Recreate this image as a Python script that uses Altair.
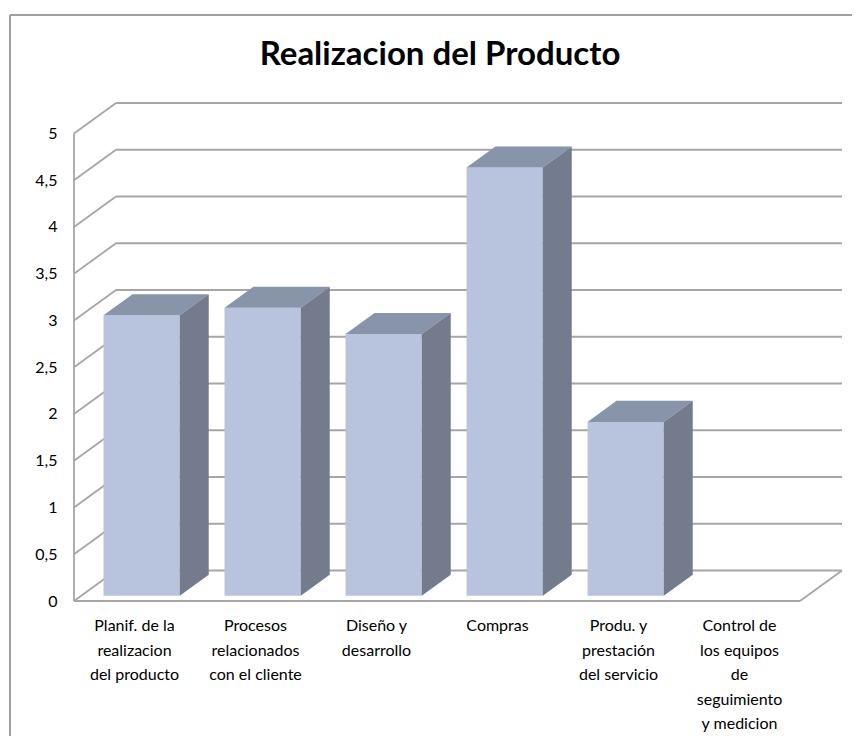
import altair as alt
import pandas as pd

# ---- data ----
title_text = "Realizacion del Producto"
categories = [
    "Planif.  de la\nrealizacion\ndel producto",
    "Procesos\nrelacionados\ncon el cliente",
    "Diseño y\ndesarrollo",
    "Compras",
    "Produ.  y\nprestación\ndel servicio",
    "Control de\nlos equipos\nde\nseguimiento\ny medicion",
]
values = [3.0, 3.08, 2.8, 4.58, 1.86, 0.0]
y_ticks = [0, 0.5, 1, 1.5, 2, 2.5, 3, 3.5, 4, 4.5, 5]

# ---- 3D layout constants (in data units) ----
N = len(categories)
DX = 0.347     # depth offset along x (category units)
DY = 0.326     # depth offset along y (value units)
F0, F1 = 0.17, 0.86   # bar front / back depth fraction
HW = 0.315     # half bar width
XMAX = N + DX
YMAX = 5 + DY

FONT = "Lato"
GRID = "#A6A6A6"
C_FRONT = "#B8C3DD"
C_TOP = "#8894AA"
C_SIDE = "#737B8D"

W, H = 768, 498

xs = alt.Scale(domain=[0, XMAX], nice=False, zero=False)
ys = alt.Scale(domain=[0, YMAX], nice=False, zero=False)

YAX = alt.Axis(
    values=y_ticks,
    domain=False,
    ticks=False,
    grid=False,
    labelPadding=17,
    labelFont=FONT,
    labelFontSize=16,
    labelColor="#000000",
    labelExpr="replace(format(datum.value, '~g'), '.', ',')",
    title=None,
)


def X(field):
    return alt.X(field, scale=xs, axis=None)


def Y(field):
    return alt.Y(field, scale=ys, axis=YAX)


# ---- grid / walls ----
grid = pd.DataFrame({"v": y_ticks})
grid["xb0"] = DX
grid["xb1"] = N + DX
grid["yb"] = grid["v"] + DY
grid["x0"] = 0.0

back_lines = alt.Chart(grid).mark_rule(color=GRID, strokeWidth=1.8).encode(
    x=X("xb0:Q"), x2="xb1:Q", y=Y("yb:Q"),
)
side_lines = alt.Chart(grid).mark_rule(color=GRID, strokeWidth=1.8).encode(
    x=X("x0:Q"), x2="xb0:Q", y=Y("v:Q"), y2="yb:Q",
)

edges = pd.DataFrame({
    "x1": [0.0, 0.0, float(N)],
    "y1": [0.0, 0.0, 0.0],
    "x2": [0.0, float(N), N + DX],
    "y2": [5.0, 0.0, DY],
})
edge_lines = alt.Chart(edges).mark_rule(color=GRID, strokeWidth=1.8).encode(
    x=X("x1:Q"), x2="x2:Q", y=Y("y1:Q"), y2="y2:Q",
)

# ---- bars ----
bars = pd.DataFrame({"cat": categories, "value": values})
bars["i"] = range(N)
bars["c"] = bars["i"] + 0.5
bars = bars[bars["value"] > 0].copy()

front = bars.copy()
front["xl"] = front["c"] - HW + F0 * DX
front["xr"] = front["c"] + HW + F0 * DX
front["yb"] = F0 * DY
front["yt"] = front["value"] + F0 * DY

top_rows, side_rows = [], []
for _, r in bars.iterrows():
    for f in (F0, F1):
        top_rows.append({
            "i": r["i"],
            "y": r["value"] + f * DY,
            "xl": r["c"] - HW + f * DX,
            "xr": r["c"] + HW + f * DX,
        })
        side_rows.append({
            "i": r["i"],
            "x": r["c"] + HW + f * DX,
            "yt": r["value"] + f * DY,
            "yb": f * DY,
        })
top = pd.DataFrame(top_rows)
side = pd.DataFrame(side_rows)

front_layer = alt.Chart(front).mark_rect(color=C_FRONT).encode(
    x=X("xl:Q"), x2="xr:Q", y=Y("yb:Q"), y2="yt:Q",
)
top_layer = alt.Chart(top).mark_area(color=C_TOP, orient="horizontal").encode(
    y=Y("y:Q"), x=X("xl:Q"), x2="xr:Q", detail="i:N",
)
side_layer = alt.Chart(side).mark_area(color=C_SIDE, orient="vertical").encode(
    x=X("x:Q"), y=Y("yt:Q"), y2="yb:Q", detail="i:N",
)

# ---- category labels ----
labels = pd.DataFrame({"cat": categories})
labels["c"] = [i + 0.5 for i in range(N)]
label_layer = alt.Chart(labels).mark_text(
    font=FONT, fontSize=16, color="#000000", align="center",
    baseline="top", lineBreak="\n", lineHeight=24.5,
).encode(
    x=X("c:Q"),
    y=alt.value(H + 17),
    text="cat:N",
)

# ---- title ----
title_layer = alt.Chart(pd.DataFrame({"t": [title_text]})).mark_text(
    font=FONT, fontSize=33, fontWeight="bold", color="#000000",
    align="center", baseline="alphabetic",
).encode(
    x=alt.value(366), y=alt.value(-38), text="t:N",
)

# ---- outer frame ----
frame_left = alt.Chart(labels).mark_rule(color="#A0A0A0", strokeWidth=1.5).encode(
    x=alt.value(-64), y=alt.value(-88), y2=alt.value(H + 200)
)
frame_top = alt.Chart(labels).mark_rule(color="#A0A0A0", strokeWidth=1.5).encode(
    x=alt.value(-64), x2=alt.value(W + 60), y=alt.value(-88)
)

chart = alt.layer(
    frame_left, frame_top,
    back_lines, side_lines, edge_lines,
    front_layer, top_layer, side_layer, label_layer, title_layer,
).properties(
    width=W,
    height=H,
    autosize=alt.AutoSizeParams(type="none"),
    padding={"left": 66, "top": 95, "right": 10, "bottom": 135},
).configure_view(stroke=None)

chart.save("out.html", embed_options={"renderer": "svg", "actions": False})
